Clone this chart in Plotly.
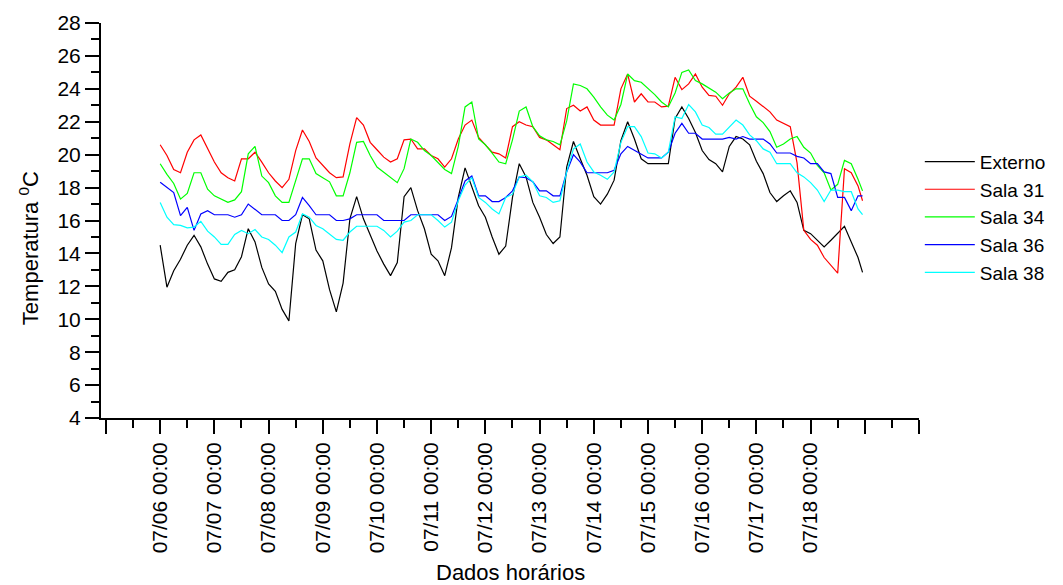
import pandas as pd
import plotly.graph_objects as go

# Hourly logger readings sampled every 3 h, 07/06 00:00 .. 07/18 21:00, plus the last reading at 23:00
times = list(pd.date_range("2009-07-06 00:00", periods=104, freq="3h")) + [pd.Timestamp("2009-07-18 23:00")]

externo = [14.5, 11.95, 12.95, 13.65, 14.5, 15.1, 14.4, 13.35,
           12.45, 12.3, 12.85, 13.0, 13.8, 15.5, 14.7, 13.15,
           12.15, 11.7, 10.6, 9.9, 14.6, 16.35, 16.1, 14.2,
           13.55, 11.8, 10.45, 12.2, 16.1, 17.45, 16.1, 15.1,
           14.15, 13.35, 12.65, 13.45, 17.45, 18.0, 16.6, 15.5,
           13.95, 13.55, 12.65, 14.35, 17.4, 19.2, 18.0, 16.9,
           16.2, 15.0, 13.95, 14.45, 17.4, 19.45, 18.65, 17.1,
           16.2, 15.15, 14.6, 15.0, 19.25, 20.8, 19.75, 18.75,
           17.45, 17.0, 17.6, 18.45, 20.85, 22.0, 20.95, 19.75,
           19.45, 19.45, 19.45, 19.45, 22.2, 22.9, 22.2, 21.35,
           20.25, 19.7, 19.45, 18.95, 20.5, 21.1, 20.95, 20.6,
           19.6, 18.85, 17.7, 17.15, 17.5, 17.8, 17.1, 15.4,
           15.2, 14.8, 14.4, 14.8, 15.2, 15.65, 14.7, 13.75,
           12.85]

sala31 = [20.6, 19.95, 19.1, 18.9, 20.15, 20.9, 21.2, 20.4,
          19.55, 18.9, 18.6, 18.4, 19.75, 19.75, 20.15, 19.55,
          18.9, 18.4, 18.0, 18.5, 20.25, 21.5, 20.8, 19.8,
          19.35, 18.9, 18.6, 18.65, 20.65, 22.25, 21.8, 20.75,
          20.3, 19.85, 19.55, 19.75, 20.9, 20.95, 20.35, 20.35,
          19.95, 19.75, 19.25, 19.75, 20.95, 21.8, 22.1, 21.05,
          20.6, 20.15, 20.05, 19.8, 21.7, 22.0, 21.8, 21.7,
          21.05, 20.9, 20.6, 20.3, 22.8, 23.0, 22.65, 22.9,
          22.1, 21.8, 21.8, 21.8, 24.0, 24.9, 23.2, 23.7,
          23.2, 23.2, 22.9, 22.95, 24.7, 23.95, 24.3, 24.9,
          24.1, 23.6, 23.55, 23.0, 23.7, 24.1, 24.7, 23.55,
          23.25, 22.95, 22.6, 22.1, 21.9, 21.7, 19.5, 15.4,
          14.85, 14.5, 13.75, 13.3, 12.8, 19.15, 18.9, 18.1,
          17.2]

sala34 = [19.45, 18.8, 18.25, 17.3, 17.65, 18.9, 18.9, 17.9,
          17.5, 17.3, 17.1, 17.25, 17.75, 20.05, 20.5, 18.7,
          18.3, 17.5, 17.1, 17.1, 18.5, 19.75, 19.75, 18.85,
          18.6, 18.35, 17.5, 17.5, 18.9, 20.75, 20.8, 19.95,
          19.25, 18.95, 18.6, 18.3, 19.15, 20.95, 20.75, 20.25,
          19.95, 19.55, 19.1, 18.85, 20.5, 22.9, 23.2, 20.95,
          20.6, 20.1, 19.55, 19.45, 20.9, 22.65, 22.9, 21.7,
          21.15, 20.9, 20.8, 20.6, 22.05, 24.3, 24.2, 24.0,
          23.5, 22.9, 22.4, 22.1, 23.05, 24.9, 24.5, 24.4,
          24.05, 23.65, 23.2, 22.9, 23.75, 25.0, 25.15, 24.5,
          24.3, 24.05, 23.8, 23.4, 23.75, 24.0, 24.0, 23.1,
          22.3, 21.95, 21.4, 20.45, 20.65, 20.95, 21.1, 20.45,
          20.1, 19.35, 18.9, 17.85, 18.2, 19.65, 19.45, 18.5,
          17.8]

sala36 = [18.33, 18.0, 17.7, 16.3, 16.8, 15.4, 16.4, 16.6,
          16.35, 16.35, 16.35, 16.2, 16.35, 17.0, 16.65, 16.35,
          16.35, 16.35, 16.0, 16.0, 16.35, 17.4, 16.9, 16.35,
          16.35, 16.35, 16.0, 16.0, 16.1, 16.35, 16.35, 16.35,
          16.35, 16.0, 16.0, 16.0, 16.0, 16.35, 16.35, 16.35,
          16.35, 16.35, 16.0, 16.25, 17.3, 18.4, 18.7, 17.5,
          17.5, 17.15, 17.15, 17.4, 17.8, 18.65, 18.6, 18.35,
          17.8, 17.8, 17.5, 17.5, 18.95, 20.0, 19.55, 18.9,
          18.9, 18.9, 18.9, 19.05, 20.05, 20.5, 20.25, 20.05,
          19.8, 19.8, 19.8, 20.15, 21.3, 21.9, 21.3, 21.3,
          20.95, 20.95, 20.95, 20.95, 21.05, 20.95, 21.1, 20.95,
          20.95, 20.95, 20.65, 20.1, 20.1, 20.1, 19.9, 19.8,
          19.45, 19.45, 18.95, 18.85, 17.4, 17.4, 16.6, 17.5,
          17.5]

sala38 = [17.1, 16.2, 15.75, 15.7, 15.55, 15.6, 15.95, 15.35,
          15.0, 14.55, 14.55, 15.15, 15.4, 15.2, 15.45, 15.0,
          14.85, 14.5, 14.05, 15.0, 15.3, 16.4, 16.2, 15.7,
          15.5, 15.2, 14.85, 14.8, 15.3, 15.65, 15.65, 15.65,
          15.65, 15.4, 15.0, 15.35, 15.9, 16.0, 16.35, 16.35,
          16.35, 16.0, 15.6, 15.9, 17.2, 18.15, 18.6, 17.4,
          17.1, 16.7, 16.4, 17.4, 17.6, 18.65, 18.75, 18.35,
          17.5, 17.4, 17.1, 17.2, 18.95, 20.35, 20.65, 19.55,
          18.95, 18.75, 18.5, 18.95, 20.75, 21.7, 21.7, 21.1,
          20.1, 20.05, 19.8, 20.15, 22.3, 22.2, 23.05, 22.6,
          21.8, 21.65, 21.25, 21.25, 21.7, 22.1, 21.8, 21.2,
          20.85, 20.35, 20.15, 19.45, 19.45, 19.45, 18.9, 18.65,
          18.3, 17.85, 17.15, 17.85, 17.85, 17.75, 17.75, 16.7,
          16.35]

series = [("Externo", externo, "#000000"),
          ("Sala 31", sala31, "#FF0000"),
          ("Sala 34", sala34, "#00FF00"),
          ("Sala 36", sala36, "#0000FF"),
          ("Sala 38", sala38, "#00FFFF")]

# Daily major ticks; only 07/06 .. 07/18 carry a label
tick_days = list(pd.date_range("2009-07-05", "2009-07-20", freq="D"))
tick_text = [d.strftime("%m/%d 00:00") if pd.Timestamp("2009-07-06") <= d <= pd.Timestamp("2009-07-18") else ""
             for d in tick_days]

FONT = "Arial, Liberation Sans, sans-serif"

fig = go.Figure()
for name, vals, color in series:
    fig.add_trace(go.Scatter(x=times, y=vals, mode="lines", name=name,
                             line=dict(color=color, width=1.2)))

fig.update_layout(
    width=1063, height=585,
    margin=dict(l=101, r=141, t=23, b=167),
    paper_bgcolor="white", plot_bgcolor="white",
    font=dict(family=FONT, size=21, color="black"),
    showlegend=True,
    legend=dict(x=1.001, xanchor="left", y=0.697, yanchor="top",
                font=dict(size=19), bgcolor="rgba(0,0,0,0)",
                tracegroupgap=0, itemwidth=50),
    xaxis=dict(
        type="date",
        range=["2009-07-04 21:48", "2009-07-20 00:00"],
        tickvals=tick_days, ticktext=tick_text, tickangle=-90,
        ticks="outside", ticklen=14, tickwidth=2, tickcolor="black",
        showline=True, linecolor="black", linewidth=2,
        showgrid=False, zeroline=False,
        tickfont=dict(size=21),
        minor=dict(ticks="outside", ticklen=8, tickwidth=2, tickcolor="black",
                   dtick=12 * 3600 * 1000, tick0="2009-07-05", showgrid=False),
    ),
    yaxis=dict(
        range=[4, 28], tickvals=list(range(4, 29, 2)),
        ticks="outside", ticklen=14, tickwidth=2, tickcolor="black",
        showline=True, linecolor="black", linewidth=2,
        showgrid=False, zeroline=False,
        tickfont=dict(size=21),
        minor=dict(ticks="outside", ticklen=8, tickwidth=2, tickcolor="black",
                   dtick=1, tick0=4, showgrid=False),
    ),
    annotations=[
        dict(text="Dados horários", xref="paper", yref="paper",
             x=0.5, y=0, yshift=-154, xanchor="center", yanchor="middle",
             showarrow=False, font=dict(size=22)),
        dict(text="Temperatura <sup>0</sup>C", xref="paper", yref="paper",
             x=0, xshift=-72, y=0.43, xanchor="center", yanchor="middle",
             textangle=-90, showarrow=False, font=dict(size=22)),
    ],
)

fig.write_html("out.html")
